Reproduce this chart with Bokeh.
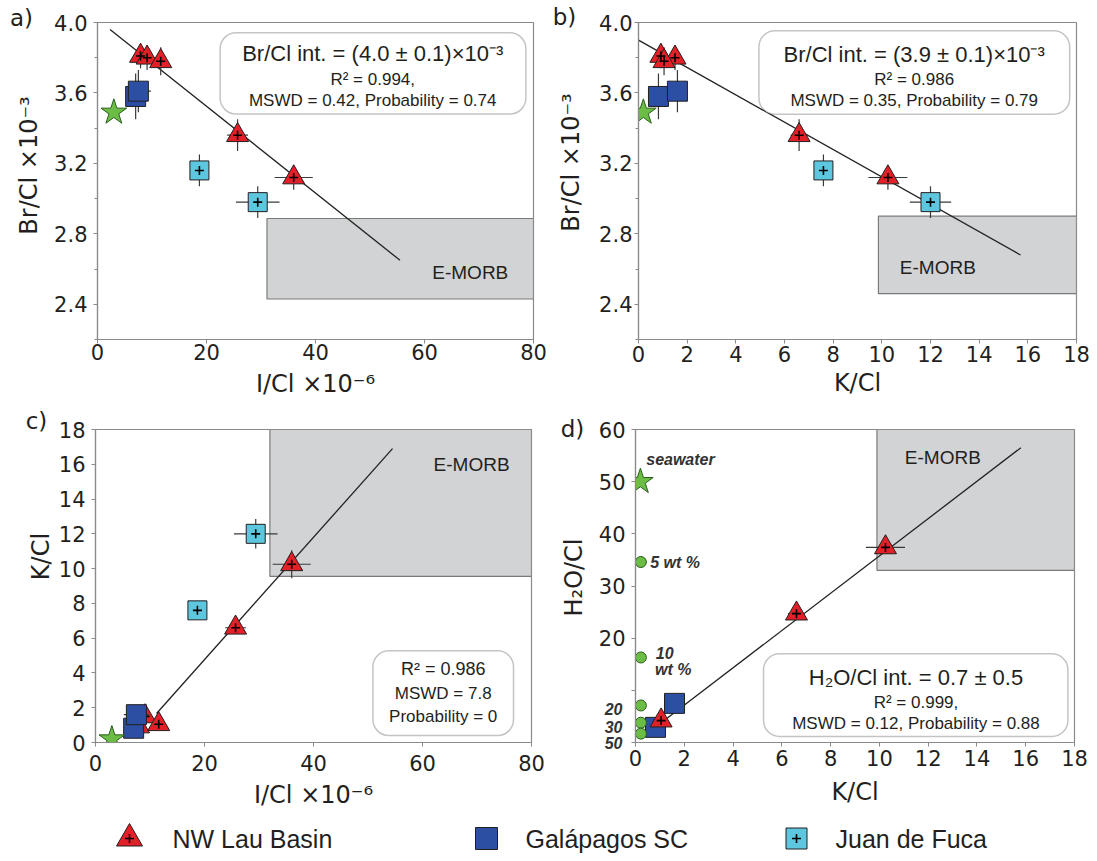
import numpy as np
from bokeh.plotting import figure
from bokeh.layouts import column, row
from bokeh.models import (Range1d, FixedTicker, NumeralTickFormatter, Label, BoxAnnotation,
                          LinearAxis)
from bokeh.embed import file_html
from bokeh.resources import INLINE

# ---------------- data ----------------
legend_labels = ["NW Lau Basin", "Galápagos SC", "Juan de Fuca"]
panel_tags = ["a)", "b)", "c)", "d)"]

# NW Lau Basin
lau_icl = [7.9, 9.1, 11.6, 25.7, 36.0]          # I/Cl x1e-6
lau_icl_err = [0.8, 0.9, 1.1, 1.9, 3.5]
lau_kcl = [0.92, 1.5, 1.05, 6.6, 10.25]         # K/Cl
lau_kcl_err = [0.12, 0.15, 0.12, 0.35, 0.8]
lau_brcl = [3.81, 3.80, 3.78, 3.36, 3.12]       # Br/Cl x1e-3
lau_brcl_err = [0.07, 0.07, 0.08, 0.09, 0.07]
lau_h2ocl = [None, None, 4.2, 24.7, 37.4]       # H2O/Cl
lau_h2ocl_err = [None, None, 0.6, 0.8, 1.0]

# Galápagos SC
gal_icl = [7.0, 7.5]
gal_icl_err = [1.5, 2.3]
gal_kcl = [0.82, 1.6]
gal_kcl_err = [0.2, 0.25]
gal_brcl = [3.58, 3.61]
gal_brcl_err = [0.13, 0.12]
gal_h2ocl = [2.9, 7.5]
gal_h2ocl_err = [0.4, 0.5]

# Juan de Fuca
jdf_icl = [18.7, 29.4]
jdf_icl_err = [1.0, 4.0]
jdf_kcl = [7.6, 12.0]
jdf_kcl_err = [0.35, 0.85]
jdf_brcl = [3.16, 2.98]
jdf_brcl_err = [0.09, 0.09]

# seawater
sw_icl = [3.0]
sw_kcl = [0.2]
sw_brcl = [3.49]
sw_h2ocl = [50.0]

# brine points (panel d) and their labels on the H2O/Cl axis
brine_kcl = [0.22, 0.22, 0.22, 0.22, 0.22]
brine_h2ocl = [34.6, 16.3, 7.1, 3.8, 1.7]
brine_labels = ["5 wt %", "10", "20", "30", "50"]
brine_axis_pos = [6.45, 2.9, 0]

# regression lines (end points)
fit_a_x, fit_a_y = [2.3, 55.5], [3.96, 2.65]
fit_b_x, fit_b_y = [0.0, 15.7], [3.90, 2.68]
fit_c_x, fit_c_y = [11.2, 54.5], [1.67, 16.9]
fit_d_x, fit_d_y = [0.92, 15.8], [3.3, 56.5]

# E-MORB fields: left, right, bottom, top
emorb_a = [31.1, 80.0, 2.43, 2.887]
emorb_b = [9.86, 18.0, 2.46, 2.90]
emorb_c = [32.0, 80.0, 9.55, 18.0]
emorb_d = [9.9, 18.0, 33.0, 60.0]

stats_a = ["Br/Cl int. = (4.0 ± 0.1)×10⁻³", "R² = 0.994,", "MSWD = 0.42, Probability = 0.74"]
stats_b = ["Br/Cl int. = (3.9 ± 0.1)×10⁻³", "R² = 0.986", "MSWD = 0.35, Probability = 0.79"]
stats_c = ["R² = 0.986", "MSWD = 7.8", "Probability = 0"]
stats_d = ["H₂O/Cl int. = 0.7 ± 0.5", "R² = 0.999,", "MSWD = 0.12, Probability = 0.88"]

# ---------------- style ----------------
RED, BLUE, CYAN, GREEN = "#e32028", "#2c4fa3", "#5cc7de", "#6bbd45"
OUT = "#231f20"
ERR = "#3a3a3a"
GRAYLINE = "#8a8a8a"
TXT = "#231f20"
TICKFONT = "DejaVu Sans"
BOXFONT = "Liberation Sans"
AXLABEL_SIZE = "24px"

H1, T1, B1 = 404, 22, 65     # row 1: height, top border, bottom border (frames aligned per row)
H2, T2, B2 = 411, 25, 73     # row 2


def A(v):
    return np.array([np.nan if t is None else t for t in v], dtype=float)


def make_fig(w, h, bl, br, bt, bb, xr, yr, xticks, yticks, xlabel,
             yminor=None, yfmt=None, ls=3, als=10, yls=3, yoverrides=None):
    p = figure(width=w, height=h, x_range=Range1d(*xr), y_range=Range1d(*yr),
               output_backend="svg", toolbar_location=None, title=None,
               min_border_left=bl, min_border_right=br,
               min_border_top=bt, min_border_bottom=bb)
    p.xgrid.visible = False
    p.ygrid.visible = False
    p.outline_line_color = GRAYLINE
    p.outline_line_width = 1.2
    p.xaxis.ticker = FixedTicker(ticks=xticks)
    p.yaxis.ticker = FixedTicker(ticks=yticks, minor_ticks=yminor or [])
    if yfmt:
        p.yaxis.formatter = NumeralTickFormatter(format=yfmt)
    if yoverrides:
        p.yaxis.major_label_overrides = yoverrides
    p.xaxis.axis_label = xlabel
    for ax in (p.xaxis[0], p.yaxis[0]):
        ax.axis_line_color = GRAYLINE
        ax.axis_line_width = 1.2
        ax.major_tick_line_color = GRAYLINE
        ax.minor_tick_line_color = GRAYLINE
        ax.major_tick_out = 4
        ax.major_tick_in = 0
        ax.minor_tick_out = 3
        ax.minor_tick_in = 0
        ax.major_label_text_font = TICKFONT
        ax.major_label_text_font_size = "21px"
        ax.major_label_text_color = TXT
        ax.axis_label_text_font = TICKFONT
        ax.axis_label_text_font_size = AXLABEL_SIZE
        ax.axis_label_text_font_style = "normal"
        ax.axis_label_text_color = TXT
    p.xaxis.major_label_standoff = ls
    p.xaxis.axis_label_standoff = als
    p.yaxis.major_label_standoff = yls
    return p


def gutter(w, h, top, bottom, tag, tag_x, tag_standoff, ylabel, ylabel_xy):
    """narrow strip left of a panel: panel tag (as a label-only top axis) and y-axis title.
    Its frame is aligned with the panel frame, so y data = pixels from the strip bottom."""
    g = figure(width=w, height=h, x_range=Range1d(0, w), y_range=Range1d(bottom, h - top),
               output_backend="svg", toolbar_location=None, title=None,
               min_border_left=0, min_border_right=0, min_border_top=top,
               min_border_bottom=bottom, x_axis_location=None, y_axis_location=None)
    g.outline_line_color = None
    g.xgrid.visible = False
    g.ygrid.visible = False
    tag_axis = LinearAxis(ticker=FixedTicker(ticks=[tag_x]), major_label_overrides={tag_x: tag},
                          axis_line_color=None, major_tick_line_color=None,
                          minor_tick_line_color=None, major_tick_out=0, major_tick_in=0,
                          major_label_standoff=tag_standoff, major_label_text_font=TICKFONT,
                          major_label_text_font_size="23px", major_label_text_color=TXT)
    g.add_layout(tag_axis, "above")
    g.add_layout(Label(x=ylabel_xy[0], y=ylabel_xy[1], text=ylabel, angle=np.pi / 2,
                       text_align="center", text_baseline="middle", text_font=TICKFONT,
                       text_font_size=AXLABEL_SIZE, text_color=TXT))
    return g


def emorb(p, box, lx, ly):
    p.quad(left=[box[0]], right=[box[1]], bottom=[box[2]], top=[box[3]],
           fill_color="#d1d3d4", line_color="#7a7a7a", line_width=1.2)
    p.add_layout(Label(x=lx, y=ly, text="E-MORB", text_align="center", text_baseline="middle",
                       text_font=BOXFONT, text_font_size="19px", text_color=TXT))


def series(p, x, y, xe, ye, marker, size, fill, plus):
    x, y, xe, ye = A(x), A(y), A(xe), A(ye)
    p.segment(x - xe, y, x + xe, y, line_color=ERR, line_width=1.2)
    p.segment(x, y - ye, x, y + ye, line_color=ERR, line_width=1.2)
    p.scatter(x, y, marker=marker, size=size, fill_color=fill, line_color=OUT, line_width=1)
    if plus:
        p.scatter(x, y, marker="cross", size=9, line_color="black", line_width=1.6)


def star(p, x, y):
    p.scatter(A(x), A(y), marker="star", size=27, fill_color=GREEN, line_color="#2b5e1c", line_width=1)


def statbox(p, box, cx, ys, lines, sizes):
    p.add_layout(BoxAnnotation(left=box[0], right=box[1], bottom=box[2], top=box[3],
                               fill_color="white", fill_alpha=1.0, line_color="#3a3a3a",
                               line_width=1.5, border_radius=16))
    for yy, t, s in zip(ys, lines, sizes):
        p.add_layout(Label(x=cx, y=yy, text=t, text_align="center", text_baseline="middle",
                           text_font=BOXFONT, text_font_size=s, text_color=TXT))


br_ticks = [2.4, 2.8, 3.2, 3.6, 4.0]
br_minor = [2.2, 2.6, 3.0, 3.4, 3.8]
BOX_SIZES = ["22px", "17px", "17px"]

# ---------------- panel a ----------------
ga = gutter(46, H1, T1, B1, panel_tags[0], 21, -8, "Br/Cl ×10⁻³", (28, H1 - 165))
pa = make_fig(504, H1, 51, 17, T1, B1, (0, 80), (2.2, 4.0), [0, 20, 40, 60, 80], br_ticks,
              "I/Cl ×10⁻⁶", yminor=br_minor, yfmt="0.0", ls=0, als=7, yls=6)
emorb(pa, emorb_a, 68.4, 2.58)
pa.line(fit_a_x, fit_a_y, line_color="#222222", line_width=1.3)
series(pa, gal_icl, gal_brcl, gal_icl_err, gal_brcl_err, "square", 20, BLUE, False)
series(pa, jdf_icl, jdf_brcl, jdf_icl_err, jdf_brcl_err, "square", 19, CYAN, True)
series(pa, lau_icl, lau_brcl, lau_icl_err, lau_brcl_err, "triangle", 22, RED, True)
star(pa, sw_icl, sw_brcl)
statbox(pa, (22.5, 78.6, 3.48, 3.942), 50.5, [3.825, 3.674, 3.555], stats_a, BOX_SIZES)

# ---------------- panel b ----------------
gb = gutter(40, H1, T1, B1, panel_tags[1], 14, -7, "Br/Cl ×10⁻³", (20, H1 - 162))
pb = make_fig(502, H1, 48, 16, T1, B1, (0, 18), (2.2, 4.0), list(range(0, 19, 2)), br_ticks,
              "K/Cl", yminor=br_minor, yfmt="0.0", ls=2, als=4, yls=2)
emorb(pb, emorb_b, 12.3, 2.61)
pb.line(fit_b_x, fit_b_y, line_color="#222222", line_width=1.3)
series(pb, gal_kcl, gal_brcl, gal_kcl_err, gal_brcl_err, "square", 20, BLUE, False)
series(pb, jdf_kcl, jdf_brcl, jdf_kcl_err, jdf_brcl_err, "square", 19, CYAN, True)
series(pb, lau_kcl, lau_brcl, lau_kcl_err, lau_brcl_err, "triangle", 22, RED, True)
star(pb, sw_kcl, sw_brcl)
statbox(pb, (4.95, 17.72, 3.479, 3.953), 11.33, [3.82, 3.678, 3.555], stats_b, BOX_SIZES)

# ---------------- panel c ----------------
gc = gutter(55, H2, T2, B2, panel_tags[2], 36, -4, "K/Cl", (40, H2 - 152))
pc = make_fig(495, H2, 39, 19, T2, B2, (0, 80), (0, 18), [0, 20, 40, 60, 80], list(range(0, 19, 2)),
              "I/Cl ×10⁻⁶", ls=8, als=7, yls=6)
emorb(pc, emorb_c, 69.0, 16.0)
pc.line(fit_c_x, fit_c_y, line_color="#222222", line_width=1.3)
series(pc, jdf_icl, jdf_kcl, jdf_icl_err, jdf_kcl_err, "square", 19, CYAN, True)
series(pc, lau_icl, lau_kcl, lau_icl_err, lau_kcl_err, "triangle", 22, RED, True)
series(pc, gal_icl, gal_kcl, gal_icl_err, gal_kcl_err, "square", 20, BLUE, False)
star(pc, sw_icl, sw_kcl)
statbox(pc, (50.9, 76.7, 0.4, 5.27), 63.8, [4.2, 2.8, 1.5], stats_c, ["18px", "17px", "17px"])

# ---------------- panel d ----------------
gd = gutter(40, H2, T2, B2, panel_tags[3], 22, -12, "H₂O/Cl", (23, H2 - 173))
pd_ = make_fig(502, H2, 45, 18, T2, B2, (0, 18), (0, 60), list(range(0, 19, 2)),
               [0, 10, 20, 30, 40, 50, 60], "K/Cl", ls=3, als=9, yls=6,
               yoverrides={0: "", 10: ""})
brine_axis = LinearAxis(ticker=FixedTicker(ticks=brine_axis_pos),
                        major_label_overrides={brine_axis_pos[0]: brine_labels[2],
                                               brine_axis_pos[1]: brine_labels[3],
                                               brine_axis_pos[2]: brine_labels[4]},
                        axis_line_color=None, major_tick_line_color=None,
                        minor_tick_line_color=None, major_tick_out=0, major_tick_in=0,
                        major_label_standoff=-27, major_label_text_font=BOXFONT,
                        major_label_text_font_size="16px",
                        major_label_text_font_style="bold italic",
                        major_label_text_color="#333333")
pd_.add_layout(brine_axis, "left")
emorb(pd_, emorb_d, 12.6, 54.6)
pd_.line(fit_d_x, fit_d_y, line_color="#222222", line_width=1.3)
series(pd_, gal_kcl, gal_h2ocl, gal_kcl_err, gal_h2ocl_err, "square", 20, BLUE, False)
series(pd_, lau_kcl, lau_h2ocl, lau_kcl_err, lau_h2ocl_err, "triangle", 22, RED, True)
pd_.scatter(A(brine_kcl), A(brine_h2ocl), marker="circle", size=11, fill_color=GREEN,
            line_color="#2b5e1c", line_width=1)
star(pd_, sw_kcl, sw_h2ocl)
statbox(pd_, (5.25, 17.73, 1.15, 17.0), 11.5, [12.5, 7.7, 3.7], stats_d, BOX_SIZES)
ann = dict(text_font=BOXFONT, text_font_size="16px", text_font_style="bold italic",
           text_color="#333333", text_baseline="middle")
pd_.add_layout(Label(x=0.44, y=54.2, text="seawater", text_align="left", **ann))
pd_.add_layout(Label(x=0.6, y=brine_h2ocl[0], text=brine_labels[0], text_align="left", **ann))
pd_.add_layout(Label(x=0.83, y=17.2, text=brine_labels[1], text_align="left", **ann))
pd_.add_layout(Label(x=0.8, y=14.0, text="wt %", text_align="left", **ann))

# ---------------- legend ----------------
pl = figure(width=1092, height=40, x_range=Range1d(0, 1092), y_range=Range1d(0, 40),
            output_backend="svg", toolbar_location=None, title=None, min_border=0,
            x_axis_location=None, y_axis_location=None)
pl.outline_line_color = None
pl.xgrid.visible = False
pl.ygrid.visible = False
leg_marker_x = [129, 486, 796]
leg_text_x = [172, 525, 835]
leg_y = 17
pl.scatter([leg_marker_x[0]], [leg_y], marker="triangle", size=26, fill_color=RED, line_color=OUT)
pl.scatter([leg_marker_x[0]], [leg_y], marker="cross", size=9, line_color="black", line_width=1.6)
pl.scatter([leg_marker_x[1]], [leg_y], marker="square", size=22, fill_color=BLUE, line_color=OUT)
pl.scatter([leg_marker_x[2]], [leg_y], marker="square", size=21, fill_color=CYAN, line_color=OUT)
pl.scatter([leg_marker_x[2]], [leg_y], marker="cross", size=9, line_color="black", line_width=1.6)
for tx, t in zip(leg_text_x, legend_labels):
    pl.add_layout(Label(x=tx, y=leg_y, text=t, text_align="left", text_baseline="middle",
                        text_font=BOXFONT, text_font_size="25px", text_color=TXT))

layout = column(row(ga, pa, gb, pb), row(gc, pc, gd, pd_), pl)
open("out.html", "w").write(file_html(layout, INLINE))
